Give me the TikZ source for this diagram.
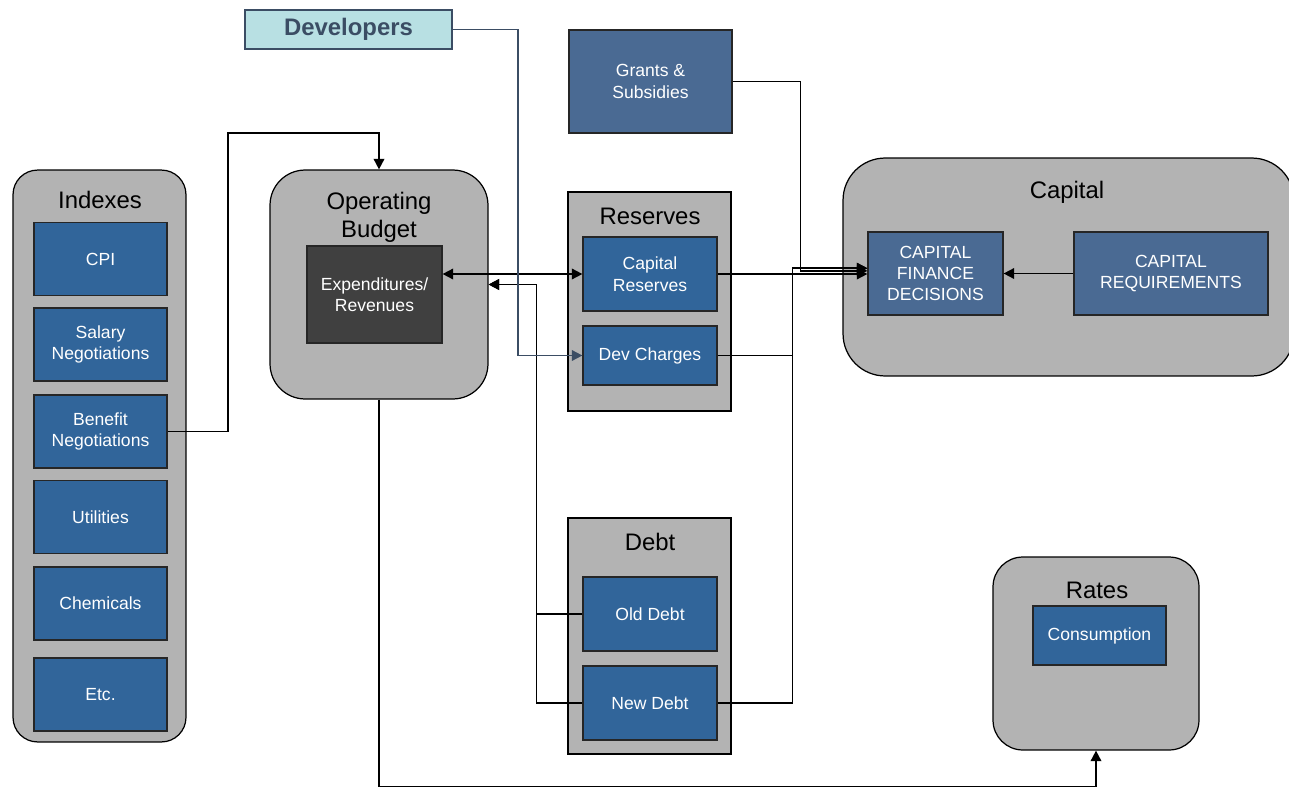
\documentclass[tikz,border=0pt]{standalone}
\usepackage{fontspec}
\setmainfont{Liberation Sans}
\usetikzlibrary{arrows.meta}

\definecolor{boxblue}{HTML}{31659A}
\definecolor{greyblue}{HTML}{4A6A93}
\definecolor{panelgrey}{HTML}{B3B3B3}
\definecolor{darkbox}{HTML}{404040}
\definecolor{devfill}{HTML}{B8E0E3}
\definecolor{slate}{HTML}{3B4D64}

\newcommand\grptitle{\fontsize{13.6}{16}\selectfont}
\newcommand\itemtext{\fontsize{10}{12.2}\selectfont}

\begin{document}
\begin{tikzpicture}[
                            x=0.02cm,
                            y=-0.02cm,
                            >={Triangle[length=6pt,width=6pt]},
                            line width=1pt
                        ]

                        \tikzstyle{panel}=[draw=black,line width=0.7pt,fill=panelgrey,inner sep=0pt,rounded corners=17pt]
                        \tikzstyle{square panel}=[panel,rounded corners=0pt]
                        \tikzstyle{title}=[font=\grptitle,align=center,inner sep=0pt]
                        \tikzstyle{item}=[draw=black!85,line width=0.7pt,fill=boxblue,text=white,font=\itemtext,align=center,inner sep=0pt,minimum width=2.66cm,minimum height=1.46cm]
                        \tikzstyle{grey item}=[item,fill=greyblue]
                        \tikzstyle{link}=[->,black]

                        \useasboundingbox (0,0) rectangle (1289,788);

                        % Indexes
                        \node[panel,rounded corners=14pt,minimum width=3.46cm,minimum height=11.44cm] (indexes) at (99.5,456) {};
                        \node[title] (indexestitle) at (100,200) {Indexes};
                        \node[item] (cpi)       at (100.5,259)   {CPI};
                        \node[item] (salary)    at (100.5,344.5) {Salary\\Negotiations};
                        \node[item] (benefit)   at (100.5,431.5) {Benefit\\Negotiations};
                        \node[item] (utilities) at (100.5,517)   {Utilities};
                        \node[item] (chemicals) at (100.5,603.5) {Chemicals};
                        \node[item] (etc)       at (100.5,694.5) {Etc.};

                        % Operating budget
                        \node[panel,rounded corners=20pt,minimum width=4.36cm,minimum height=4.58cm] (budget) at (379,284.5) {};
                        \node[title] (budgettitle) at (379,217) {Operating\\Budget};
                        \node[item,fill=darkbox,minimum width=2.7cm,minimum height=1.94cm] (expend) at (374.5,294.5) {Expenditures/\\Revenues};

                        % Developers and grants
                        \node[draw=slate,line width=0.8pt,fill=devfill,text=slate,font=\grptitle\bfseries,inner sep=0pt,minimum width=4.14cm,minimum height=0.78cm] (developers) at (348.5,29.5) {Developers};
                        \node[grey item,minimum width=3.26cm,minimum height=2.06cm] (grants) at (650.5,81.5) {Grants \&\\Subsidies};

                        % Reserves
                        \node[square panel,minimum width=3.26cm,minimum height=4.38cm] (reserves) at (649.5,301.5) {};
                        \node[title] (reservestitle) at (650,216) {Reserves};
                        \node[item,minimum width=2.68cm,minimum height=1.48cm] (capres) at (650,274)   {Capital\\Reserves};
                        \node[item,minimum width=2.68cm,minimum height=1.18cm] (devch)  at (650,355.5) {Dev Charges};

                        % Debt
                        \node[square panel,minimum width=3.26cm,minimum height=4.72cm] (debt) at (649.5,636) {};
                        \node[title] (debttitle) at (650,542) {Debt};
                        \node[item,minimum width=2.68cm,minimum height=1.48cm] (olddebt) at (650,614) {Old Debt};
                        \node[item,minimum width=2.68cm,minimum height=1.48cm] (newdebt) at (650,703) {New Debt};

                        % Capital
                        \node[panel,rounded corners=24pt,minimum width=9.02cm,minimum height=4.36cm] (capital) at (1068.5,267) {};
                        \node[title] (capitaltitle) at (1067,192) {Capital};
                        \node[grey item,minimum width=2.7cm,minimum height=1.66cm]  (cfd)    at (935.5,273.5) {CAPITAL\\FINANCE\\DECISIONS};
                        \node[grey item,minimum width=3.88cm,minimum height=1.66cm] (capreq) at (1171,273.5)  {CAPITAL\\REQUIREMENTS};

                        % Rates
                        \node[panel,minimum width=4.12cm,minimum height=3.86cm] (rates) at (1096,653.5) {};
                        \node[title] (ratestitle) at (1097,590) {Rates};
                        \node[item,minimum height=1.18cm] (consumption) at (1099.5,635.5) {Consumption};

                        % connectors
                        \draw[link] (benefit.east) -| (228,133) -| (budget.north);
                        \draw[link,<->] (expend.east |- capres.west) -- (capres.west);
                        \draw[link] (olddebt.west) -- ++(-46,0) |- (budget.east);
                        \draw[link] (newdebt.west) -- ++(-46,0) |- (budget.east);
                        \draw[link,slate] (developers.east) -- ++(65,0) |- (devch.west);
                        \draw[link] (grants.east) -- ++(68,0) |- ([yshift=1.5pt]cfd.west);
                        \draw[link] (capres.east) -- (capres.east -| cfd.west);
                        \draw[link] (devch.east) -- ++(75,0) |- ([yshift=3pt]cfd.west);
                        \draw[link] (newdebt.east) -- ++(75,0) |- ([yshift=3pt]cfd.west);
                        \draw[link] (capreq.west) -- (cfd.east);
                        \draw[link] (budget.south) -- ++(0,387) -| (rates.south);
                    \end{tikzpicture}
\end{document}
